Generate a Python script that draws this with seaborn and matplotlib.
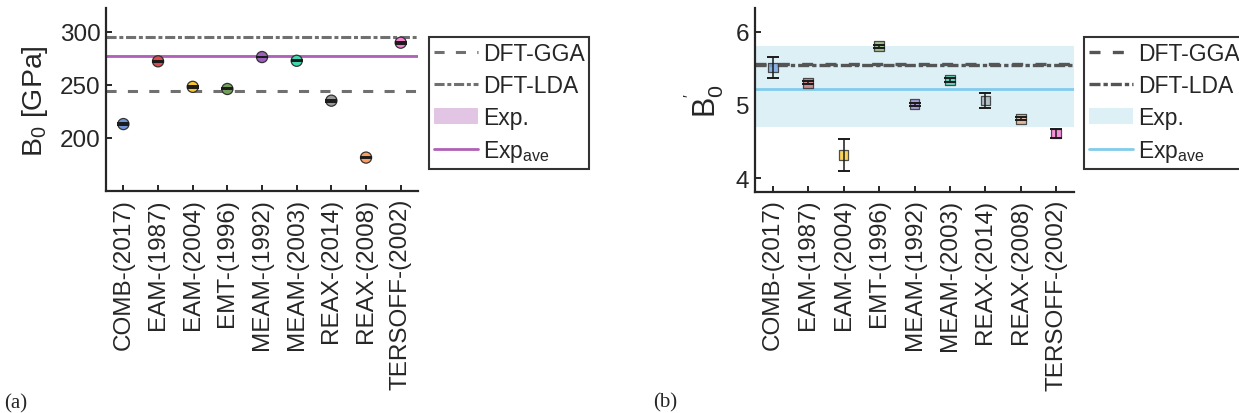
import matplotlib
matplotlib.use("Agg")
import matplotlib.pyplot as plt
import numpy as np
import pandas as pd
import seaborn as sns

potentials = [
    "COMB-(2017)", "EAM-(1987)", "EAM-(2004)", "EMT-(1996)", "MEAM-(1992)",
    "MEAM-(2003)", "REAX-(2014)", "REAX-(2008)", "TERSOFF-(2002)",
]

# panel (a): bulk modulus B0 [GPa]
b0_values = [213.0, 272.0, 248.0, 246.0, 276.0, 272.5, 235.0, 181.5, 289.5]
b0_errors = [1.0, 0.3, 1.0, 0.5, 0.2, 0.3, 1.0, 0.3, 1.0]
b0_gga = 244.0
b0_lda = 294.5
b0_exp_low, b0_exp_high = 275.7, 278.3
b0_exp_ave = 277.0
b0_colors = ["#6e95d8", "#e0484d", "#f9c630", "#74a15a", "#9c5fbd",
             "#40d8b0", "#9a9a9a", "#ff9d5c", "#f580d0"]

# panel (b): pressure derivative B0'
bp_values = [5.51, 5.30, 4.32, 5.80, 5.01, 5.34, 5.06, 4.81, 4.61]
bp_errors = [0.145, 0.02, 0.22, 0.02, 0.02, 0.03, 0.10, 0.02, 0.06]
bp_gga = 5.56
bp_lda = 5.54
bp_exp_low, bp_exp_high = 4.70, 5.80
bp_exp_ave = 5.22
bp_colors = ["#7ba7e0", "#c97a80", "#f9cd3c", "#8fb87a", "#9b8fcf",
             "#4fcfb5", "#a8b8be", "#e0b090", "#f57fd6"]

sns.set_theme(style="ticks")
plt.rcParams.update(
    {
        "font.family": ["Liberation Sans", "DejaVu Sans"],
        "mathtext.default": "regular",
        "axes.linewidth": 1.6,
        "axes.edgecolor": "#262626",
        "xtick.direction": "in",
        "ytick.direction": "in",
        "xtick.major.size": 4,
        "ytick.major.size": 4,
        "xtick.major.width": 1.4,
        "ytick.major.width": 1.4,
        "xtick.color": "#262626",
        "ytick.color": "#262626",
        "text.color": "#262626",
        "axes.labelcolor": "#262626",
    }
)

fig = plt.figure(figsize=(12.39, 4.14), dpi=100)
ax_a = fig.add_axes([0.0856, 0.536, 0.2518, 0.442])
ax_b = fig.add_axes([0.6094, 0.535, 0.2574, 0.443])

gga_dash = (3.3, 3.7)
lda_dash = (3.3, 0.9, 1.3, 0.9)


def draw_panel(ax, values, errors, colors, gga, lda, lo, hi, ave, band_color,
               ave_color, marker, size, alpha, ref_lw, ref_color):
    df = pd.DataFrame({"potential": potentials, "value": values})
    ax.axhspan(lo, hi, color=band_color, lw=0, label="Exp.", zorder=1)
    ax.axhline(ave, color=ave_color, lw=2.0, label="Exp$_{ave}$", zorder=1.5)
    l1 = ax.axhline(gga, color=ref_color, lw=ref_lw, label="DFT-GGA", zorder=1.6)
    l1.set_dashes(gga_dash)
    l2 = ax.axhline(lda, color=ref_color, lw=ref_lw, label="DFT-LDA", zorder=1.6)
    l2.set_dashes(lda_dash)
    sns.scatterplot(
        data=df, x="potential", y="value", hue="potential", palette=colors,
        marker=marker, s=size, edgecolor="#333333", linewidth=0.9, alpha=alpha,
        legend=False, ax=ax, zorder=3,
    )
    ax.errorbar(potentials, values, yerr=errors, fmt="none", ecolor="#1a1a1a",
                elinewidth=1.1, capsize=4, capthick=1.4, zorder=4)
    ax.set_xlim(-0.5, 8.5)
    ax.set_xlabel("")
    ax.tick_params(axis="x", labelrotation=90, labelsize=17.5, pad=5)
    ax.tick_params(axis="y", labelsize=17.5, pad=4)
    sns.despine(ax=ax)
    handles, labels = ax.get_legend_handles_labels()
    order = ["DFT-GGA", "DFT-LDA", "Exp.", "Exp$_{ave}$"]
    hmap = dict(zip(labels, handles))
    return [hmap[k] for k in order], order


def add_legend(ax, handles, labels, left_px):
    leg = ax.legend(handles, labels, loc="upper left",
                    bbox_to_anchor=(left_px / 1239, 1 - 38 / 414),
                    bbox_transform=fig.transFigure, fontsize=16.5, frameon=True,
                    fancybox=False, edgecolor="#333333", framealpha=1,
                    handlelength=1.95, labelspacing=0.4, borderpad=0.2,
                    handletextpad=0.2, borderaxespad=0)
    leg.get_frame().set_linewidth(1.5)


h, lab = draw_panel(ax_a, b0_values, b0_errors, b0_colors, b0_gga, b0_lda,
                    b0_exp_low, b0_exp_high, b0_exp_ave, "#e2c4e4", "#b060b8",
                    "o", 64, 1.0, 2.2, "#707070")
ax_a.set_ylim(150, 322)
ax_a.set_yticks([200, 250, 300])
ax_a.set_ylabel("B$_0$ [GPa]", fontsize=20.5, labelpad=7)
add_legend(ax_a, h, lab, 429)

h, lab = draw_panel(ax_b, bp_values, bp_errors, bp_colors, bp_gga, bp_lda,
                    bp_exp_low, bp_exp_high, bp_exp_ave, "#ddf0f6", "#80ccec",
                    "s", 48, 0.85, 2.4, "#555555")
ax_b.set_ylim(3.82, 6.32)
ax_b.set_yticks([4, 5, 6])
ax_b.set_ylabel("B$_0^{'}$", fontsize=22, labelpad=7)
add_legend(ax_b, h, lab, 1084)

fig.text(0.003, 0.025, "(a)", family="Liberation Serif", fontsize=15, va="center")
fig.text(0.527, 0.027, "(b)", family="Liberation Serif", fontsize=15, va="center")

fig.savefig("out.png", dpi=100)
plt.close(fig)
